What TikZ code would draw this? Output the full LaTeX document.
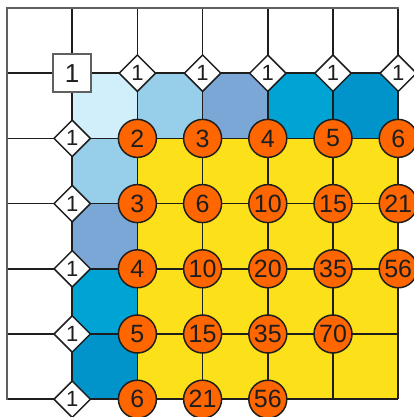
\documentclass[tikz,border=0pt]{standalone}
\usepackage{fontspec}
\setmainfont{Liberation Sans}
\usetikzlibrary{shapes.geometric}

\definecolor{gridline}{HTML}{1E1E1E}
\definecolor{framegray}{HTML}{606060}
\definecolor{cellA}{HTML}{D0EFFA}
\definecolor{cellB}{HTML}{97CFEB}
\definecolor{cellC}{HTML}{7BA7D6}
\definecolor{cellD}{HTML}{00A4D4}
\definecolor{cellE}{HTML}{0094CB}
\definecolor{sumfill}{HTML}{FCE11A}
\definecolor{ballfill}{HTML}{FF6600}
\definecolor{digit}{HTML}{1E1E1E}

\tikzset{
  gridrule/.style={draw=gridline, line width=1.5pt},
  framerule/.style={draw=framegray, line width=2.2pt},
  startbox/.style={rectangle, draw=framegray, line width=1.9pt, fill=white,
    minimum size=38pt, inner sep=0pt, text=digit,
    font=\fontsize{26}{26}\selectfont},
  edgebox/.style={diamond, draw=gridline, line width=1.5pt, fill=white,
    minimum width=37pt, minimum height=37pt, inner sep=0pt, text=digit,
    font=\fontsize{22}{22}\selectfont},
  ball/.style={circle, draw=gridline, line width=1.5pt, fill=ballfill,
    minimum size=38pt, inner sep=0pt, text=digit,
    font=\fontsize{25}{25}\selectfont},
}

\begin{document}
\begin{tikzpicture}[x=1pt, y=-1pt]
\useasboundingbox (0,0) rectangle (413,417);

% lattice points
\foreach \i in {0,...,6}{
  \foreach \j in {0,...,6}{
    \coordinate (g-\i-\j) at ({7+65.2*\i},{8+65.2*\j});
  }
}

% coloured cells
\fill[sumfill] (g-2-2) rectangle (g-6-6);
\fill[cellA] (g-1-1) rectangle (g-2-2);
\foreach \k/\c in {2/cellB,3/cellC,4/cellD,5/cellE}{
  \pgfmathtruncatemacro{\kk}{\k+1}
  \fill[\c] (g-\k-1) rectangle (g-\kk-2);
  \fill[\c] (g-1-\k) rectangle (g-2-\kk);
}

% grid lines
\foreach \i in {1,...,6}{
  \draw[gridrule] (g-\i-0) -- (g-\i-6);
}
\foreach \j in {1,...,6}{
  \draw[gridrule] (g-0-\j) -- (g-6-\j);
}
\draw[framerule, line cap=rect] (g-6-0) -- (g-0-0) -- (g-0-6);

% corner start
\node[startbox] (n-1-1) at (g-1-1) {1};
% border ones
\foreach \k in {2,...,6}{
  \node[edgebox] (n-\k-1) at (g-\k-1) {1};
  \node[edgebox] (n-1-\k) at (g-1-\k) {1};
}
% path counts (column/row/value)
\foreach \i/\j/\v in {
  2/2/2, 3/2/3, 4/2/4, 5/2/5, 6/2/6,
  2/3/3, 3/3/6, 4/3/10, 5/3/15, 6/3/21,
  2/4/4, 3/4/10, 4/4/20, 5/4/35, 6/4/56,
  2/5/5, 3/5/15, 4/5/35, 5/5/70,
  2/6/6, 3/6/21, 4/6/56}{
  \node[ball] (n-\i-\j) at (g-\i-\j) {\v};
}
\end{tikzpicture}
\end{document}
